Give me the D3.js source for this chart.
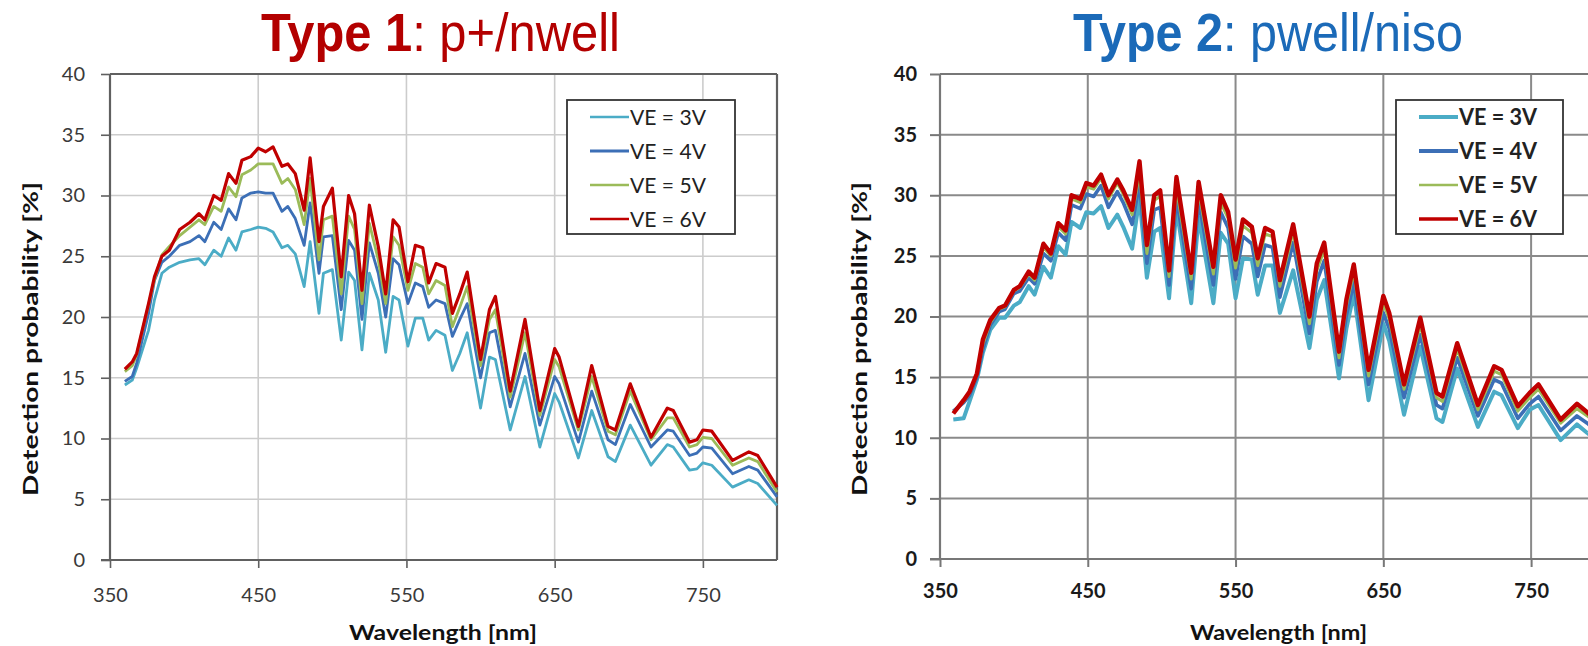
<!DOCTYPE html>
<html>
<head>
<meta charset="utf-8">
<script src="https://cdn.jsdelivr.net/npm/d3@7"></script>
<style>
  html, body { margin: 0; padding: 0; background: #fff; }
  svg { display: block; }
</style>
</head>
<body>
<svg></svg>
<script>
var width = 1588,
    height = 646;

// ---- data ----
var seriesNames = ["VE = 3V", "VE = 4V", "VE = 5V", "VE = 6V"];
var seriesColors = ["#4bacc6", "#3c6fb6", "#9bbb59", "#c00000"];
var xTicks = [350, 450, 550, 650, 750];
var yTicks = [0, 5, 10, 15, 20, 25, 30, 35, 40];

// Type 1: p+/nwell
var wlType1 = [360, 365, 368, 376, 380, 385, 390, 397, 404, 410, 414, 420, 425, 430, 435, 439, 445, 450, 455, 460,
    466, 470, 475, 481, 485, 491, 494, 500, 506, 511, 515, 520, 525, 531, 536, 541, 545, 551, 556, 561,
    565, 570, 576, 581, 586, 591, 600, 606, 610, 620, 630, 640, 650, 653, 666, 675, 686, 691, 701, 715,
    726, 730, 741, 746, 750, 756, 770, 781, 787, 800];
var type1VE3 = [14.4, 14.8, 15.8, 18.9, 21.4, 23.6, 24.1, 24.5, 24.7, 24.8, 24.3, 25.5, 25.0, 26.5, 25.5, 27.0, 27.2, 27.4, 27.3, 27.0,
    25.7, 25.9, 25.2, 22.5, 26.2, 20.3, 23.6, 23.9, 18.1, 23.7, 23.0, 17.3, 23.6, 21.4, 17.1, 21.7, 21.4, 17.6, 19.9, 19.9,
    18.1, 18.9, 18.5, 15.6, 17.0, 18.7, 12.5, 16.7, 16.5, 10.7, 15.1, 9.3, 13.7, 13.0, 8.4, 12.3, 8.5, 8.1, 11.1, 7.8,
    9.5, 9.3, 7.4, 7.5, 8.0, 7.8, 6.0, 6.6, 6.3, 4.5];
var type1VE4 = [14.7, 15.1, 16.2, 20.3, 23.0, 24.5, 25.0, 25.9, 26.2, 26.7, 26.2, 27.8, 27.2, 28.9, 28.0, 29.8, 30.2, 30.3, 30.2, 30.2,
    28.7, 29.1, 28.1, 25.9, 29.4, 23.6, 26.6, 26.7, 20.6, 26.3, 25.5, 19.8, 26.1, 23.6, 20.0, 24.8, 24.3, 21.1, 22.8, 22.5,
    20.8, 21.4, 21.1, 18.4, 19.8, 21.1, 15.0, 18.7, 18.9, 12.6, 17.0, 11.1, 15.1, 14.5, 9.7, 13.9, 9.9, 9.5, 12.8, 9.3,
    10.7, 10.6, 8.6, 8.8, 9.3, 9.2, 7.1, 7.7, 7.4, 5.2];
var type1VE5 = [15.5, 16.0, 16.9, 21.0, 23.1, 25.1, 25.8, 26.7, 27.4, 28.0, 27.6, 29.1, 28.7, 30.7, 29.9, 31.7, 32.1, 32.6, 32.6, 32.6,
    31.0, 31.4, 30.5, 27.6, 31.4, 24.7, 28.0, 28.3, 21.9, 28.3, 27.2, 21.1, 27.7, 24.7, 21.1, 26.6, 25.9, 22.2, 24.4, 24.1,
    21.9, 23.0, 22.6, 19.2, 20.8, 22.5, 16.0, 19.8, 20.6, 13.4, 18.7, 11.9, 16.5, 15.9, 10.7, 15.1, 10.6, 10.3, 13.9, 9.9,
    11.7, 11.7, 9.3, 9.5, 10.1, 10.0, 7.8, 8.4, 8.1, 5.6];
var type1VE6 = [15.7, 16.3, 17.0, 21.1, 23.3, 25.0, 25.5, 27.2, 27.8, 28.5, 28.0, 30.0, 29.6, 31.8, 31.0, 32.9, 33.2, 33.9, 33.6, 34.0,
    32.4, 32.6, 31.8, 28.8, 33.1, 26.2, 29.1, 30.6, 23.3, 30.0, 28.5, 22.2, 29.2, 25.8, 21.9, 28.0, 27.4, 22.9, 25.9, 25.7,
    22.8, 24.4, 24.1, 20.3, 21.9, 23.7, 16.5, 20.6, 21.7, 13.9, 19.8, 12.3, 17.4, 16.7, 11.0, 16.0, 11.0, 10.7, 14.5, 10.1,
    12.5, 12.3, 9.7, 9.9, 10.7, 10.6, 8.2, 8.9, 8.6, 6.0];

// Type 2: pwell/niso
var wlType2 = [359, 366, 370, 375, 379, 384, 390, 394, 400, 404, 410, 414, 420, 425, 430, 435, 439, 445, 449, 454,
    459, 464, 470, 474, 480, 485, 490, 495, 499, 505, 510, 520, 525, 535, 540, 545, 550, 555, 561, 565,
    570, 575, 580, 589, 600, 605, 610, 620, 625, 630, 640, 650, 654, 664, 675, 686, 690, 700, 714, 725,
    730, 741, 749, 755, 770, 781, 788, 800];
var type2VE3 = [11.5, 11.6, 13.0, 14.8, 17.0, 18.9, 19.9, 19.9, 20.9, 21.2, 22.5, 21.8, 24.1, 23.2, 25.8, 25.1, 27.8, 27.3, 28.6, 28.5,
    29.1, 27.3, 28.4, 27.4, 25.6, 29.8, 23.2, 27.0, 27.3, 21.5, 28.9, 21.1, 28.2, 21.1, 26.9, 26.0, 21.5, 24.8, 24.7, 21.8,
    24.2, 24.2, 20.3, 23.8, 17.4, 21.4, 23.0, 14.9, 19.0, 21.9, 13.1, 19.4, 18.0, 11.9, 17.5, 11.6, 11.3, 15.7, 10.9, 13.8,
    13.5, 10.8, 12.3, 12.7, 9.8, 11.1, 10.4, 9.3];
var type2VE4 = [12.2, 12.9, 13.5, 15.0, 17.3, 19.3, 20.4, 20.6, 21.9, 22.1, 23.2, 22.7, 25.2, 24.6, 26.9, 26.3, 29.2, 28.9, 30.1, 29.9,
    30.8, 29.0, 30.3, 29.4, 27.6, 31.0, 24.4, 28.8, 29.0, 22.6, 29.8, 22.3, 29.6, 22.6, 28.6, 27.3, 23.1, 26.6, 26.0, 23.3,
    25.9, 25.7, 21.6, 26.1, 18.6, 22.9, 24.6, 16.0, 20.1, 22.8, 14.4, 20.3, 19.0, 13.3, 18.5, 12.7, 12.4, 16.6, 11.8, 14.8,
    14.5, 11.6, 12.8, 13.4, 10.6, 11.8, 11.2, 10.0];
var type2VE5 = [12.1, 13.0, 13.7, 15.2, 17.7, 19.5, 20.6, 20.8, 22.1, 22.4, 23.5, 23.0, 25.7, 25.0, 27.4, 26.8, 29.7, 29.4, 30.7, 30.5,
    31.4, 29.7, 31.0, 30.1, 28.4, 31.8, 25.2, 29.6, 29.9, 23.3, 30.6, 23.1, 30.4, 23.5, 29.4, 28.1, 24.0, 27.5, 26.9, 24.2,
    26.8, 26.6, 22.5, 27.0, 19.4, 23.8, 25.5, 16.6, 20.9, 23.7, 15.1, 21.1, 19.8, 14.0, 19.3, 13.3, 13.0, 17.3, 12.3, 15.5,
    15.2, 12.2, 13.3, 14.0, 11.2, 12.4, 11.8, 10.5];
var type2VE6 = [12.0, 13.1, 13.8, 15.3, 18.1, 19.7, 20.7, 20.9, 22.2, 22.5, 23.7, 23.2, 26.0, 25.2, 27.7, 27.1, 30.0, 29.7, 31.0, 30.8,
    31.7, 30.0, 31.3, 30.4, 28.8, 32.8, 25.9, 30.0, 30.4, 23.8, 31.5, 23.6, 31.1, 24.1, 30.0, 28.6, 24.7, 28.0, 27.4, 24.8,
    27.3, 27.0, 23.0, 27.6, 20.0, 24.4, 26.1, 17.1, 21.4, 24.3, 15.6, 21.7, 20.3, 14.4, 19.9, 13.7, 13.4, 17.8, 12.7, 15.9,
    15.6, 12.6, 13.7, 14.4, 11.5, 12.8, 12.1, 10.8];

var svg = d3.select("svg")
    .attr("width", width)
    .attr("height", height);

var fontFamily = "Lato, 'Open Sans', sans-serif";

function drawPanel(p) {
    var x = d3.scaleLinear().domain([350, 800]).range([p.left, p.right]);
    var y = d3.scaleLinear().domain([0, 40]).range([p.bottom, p.top]);
    var g = svg.append("g");

    // grid
    g.selectAll(".vgrid").data(xTicks.slice(1)).enter().append("line")
        .attr("x1", d => x(d)).attr("x2", d => x(d))
        .attr("y1", y(0)).attr("y2", y(40))
        .attr("stroke", p.gridColor).attr("stroke-width", p.gridWidth);
    g.selectAll(".hgrid").data(yTicks.slice(1)).enter().append("line")
        .attr("x1", x(350)).attr("x2", x(800))
        .attr("y1", d => y(d)).attr("y2", d => y(d))
        .attr("stroke", d => d === 40 ? p.frameColor : p.gridColor)
        .attr("stroke-width", d => d === 40 ? p.frameWidth : p.gridWidth);
    if (p.rightBorder) {
        g.append("line")
            .attr("x1", x(800)).attr("x2", x(800))
            .attr("y1", y(0)).attr("y2", y(40))
            .attr("stroke", p.frameColor).attr("stroke-width", p.frameWidth);
    }

    // axes
    var yAxis = d3.axisLeft(y).tickValues(yTicks).tickSize(p.yTickSize).tickPadding(p.yTickPad);
    var xAxis = d3.axisBottom(x).tickValues(xTicks).tickSize(8).tickPadding(p.xTickPad);
    [g.append("g").attr("transform", "translate(" + x(350) + ",0)").call(yAxis),
     g.append("g").attr("transform", "translate(0," + y(0) + ")").call(xAxis)].forEach(function (a) {
        a.select(".domain").remove();
        a.selectAll("line").attr("stroke", p.frameColor).attr("stroke-width", p.gridWidth);
        a.selectAll("text")
            .attr("font-family", fontFamily)
            .attr("font-size", p.tickFont)
            .attr("font-weight", p.tickWeight)
            .attr("fill", p.tickColor);
    });
    g.append("line").attr("x1", x(350)).attr("x2", x(350)).attr("y1", y(0)).attr("y2", y(40))
        .attr("stroke", p.frameColor).attr("stroke-width", p.frameWidth);
    g.append("line").attr("x1", x(350) - p.yTickSize).attr("x2", x(800)).attr("y1", y(0)).attr("y2", y(0))
        .attr("stroke", p.frameColor).attr("stroke-width", p.frameWidth);

    // curves
    var line = d3.line().x(d => x(d[0])).y(d => y(d[1]));
    p.series.forEach(function (vals, i) {
        g.append("path")
            .datum(p.wl.map((w, j) => [w, vals[j]]))
            .attr("fill", "none")
            .attr("stroke", seriesColors[i])
            .attr("stroke-width", p.lineWidths[i])
            .attr("stroke-linejoin", "round")
            .attr("d", line);
    });

    // legend
    var lg = g.append("g").attr("transform", "translate(" + p.legend[0] + "," + p.legend[1] + ")");
    lg.append("rect").attr("width", p.legend[2]).attr("height", 134)
        .attr("fill", "#fff").attr("stroke", "#333").attr("stroke-width", 1.8);
    seriesNames.forEach(function (name, i) {
        var ly = 17 + i * 34;
        lg.append("line").attr("x1", 23).attr("x2", 62).attr("y1", ly).attr("y2", ly)
            .attr("stroke", seriesColors[i]).attr("stroke-width", p.legendWidths[i]);
        lg.append("text").attr("x", 63).attr("y", ly).attr("dy", "0.36em")
            .attr("font-family", fontFamily).attr("font-size", 22)
            .attr("font-weight", p.tickWeight).attr("fill", "#222")
            .attr("textLength", p.legendTextLen).attr("lengthAdjust", "spacingAndGlyphs")
            .text(name);
    });

    // axis titles
    g.append("text")
        .attr("transform", "translate(" + p.yLabelX + ",339) rotate(-90)")
        .attr("text-anchor", "middle").attr("dy", "0.36em")
        .attr("font-family", fontFamily).attr("font-size", 21).attr("font-weight", "bold")
        .attr("fill", "#111")
        .attr("textLength", 314).attr("lengthAdjust", "spacingAndGlyphs")
        .text("Detection probability [%]");
    g.append("text")
        .attr("x", p.xLabel[0]).attr("y", 633).attr("dy", "0.36em")
        .attr("font-family", fontFamily).attr("font-size", 20).attr("font-weight", "bold")
        .attr("fill", "#111")
        .attr("textLength", p.xLabel[1]).attr("lengthAdjust", "spacingAndGlyphs")
        .text("Wavelength [nm]");

    // title, stretched to its measured extent
    var t = svg.append("text")
        .attr("font-family", "'Liberation Sans Narrow', 'Liberation Sans', Arial, sans-serif")
        .attr("font-size", 54)
        .attr("fill", p.titleColor);
    t.append("tspan").attr("font-weight", "bold").text(p.title[0]);
    t.append("tspan").text(p.title[1]);
    var bw = t.node().getBBox().width;
    t.attr("transform", "translate(" + p.titleX[0] + ",51) scale(" + ((p.titleX[1] - p.titleX[0]) / bw) + ",1)");
}

drawPanel({
    left: 110, right: 777, top: 74, bottom: 560,
    wl: wlType1, series: [type1VE3, type1VE4, type1VE5, type1VE6],
    lineWidths: [2.8, 2.8, 2.8, 3.2], legendWidths: [2.5, 3, 2.5, 2.5],
    gridColor: "#cccccc", gridWidth: 1.6, frameColor: "#606060", frameWidth: 2.2, rightBorder: true,
    yTickSize: 9, yTickPad: 16, xTickPad: 20,
    tickFont: 20, tickWeight: "normal", tickColor: "#3a3a3a",
    legend: [567, 100, 168], legendTextLen: 76,
    yLabelX: 30, xLabel: [349, 188],
    title: ["Type 1", ": p+/nwell"], titleX: [261, 620], titleColor: "#b30000"
});

drawPanel({
    left: 940, right: 1605, top: 74, bottom: 559,
    wl: wlType2, series: [type2VE3, type2VE4, type2VE5, type2VE6],
    lineWidths: [4, 3.6, 3, 4.4], legendWidths: [4, 4, 2.6, 3.6],
    gridColor: "#8a8a8a", gridWidth: 2, frameColor: "#777777", frameWidth: 2.2, rightBorder: false,
    yTickSize: 10, yTickPad: 13, xTickPad: 17,
    tickFont: 20, tickWeight: "bold", tickColor: "#1a1a1a",
    legend: [1396, 100, 167], legendTextLen: 78,
    yLabelX: 859, xLabel: [1190, 177],
    title: ["Type 2", ": pwell/niso"], titleX: [1073, 1463], titleColor: "#1b6ab8"
});
</script>
</body>
</html>
